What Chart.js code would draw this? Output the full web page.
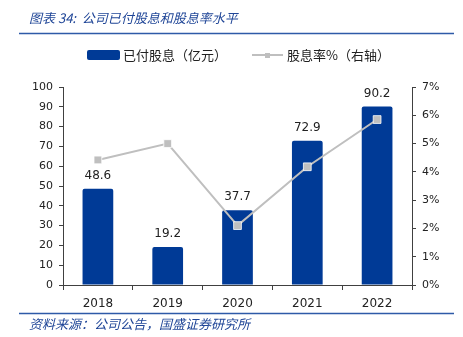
<!DOCTYPE html>
<html>
<head>
<meta charset="utf-8">
<script src="https://cdn.jsdelivr.net/npm/chart.js@4/dist/chart.umd.min.js"></script>
<style>
  html, body { margin: 0; padding: 0; background: #fff; }
  #wrap { position: relative; width: 463px; height: 337px; }
</style>
</head>
<body>
<div id="wrap"><canvas id="combo_dividend" width="463" height="337"></canvas></div>
<script>
const years = ["2018", "2019", "2020", "2021", "2022"];
const dividendPaid = [48.6, 19.2, 37.7, 72.9, 90.2];
const dividendYield = [4.42, 5.0, 2.1, 4.18, 5.85];
const leftTicks = [0, 10, 20, 30, 40, 50, 60, 70, 80, 90, 100];
const rightTicks = [0, 1, 2, 3, 4, 5, 6, 7];

const titleText = "图表 34:  公司已付股息和股息率水平";
const sourceText = "资料来源：公司公告，国盛证券研究所";
const barLabel = "已付股息（亿元）";
const lineLabel = "股息率%（右轴）";

const BLUE = "#003A96";
const GREY = "#BFBFBF";
const AXIS = "#404040";
const tickFont = { family: "DejaVu Sans", size: 11 };

const decorPlugin = {
    id: "decor",
    afterDraw(chart) {
        const c = chart.ctx;
        c.save();
        // title + rules
        c.fillStyle = "#1F4597";
        c.font = "italic 13px 'Noto Sans CJK SC'";
        c.textBaseline = "middle";
        c.fillText(titleText, 29, 18);
        c.strokeStyle = "#2E5AA8";
        c.lineWidth = 1.5;
        c.beginPath(); c.moveTo(19, 33.5); c.lineTo(454, 33.5); c.stroke();
        c.beginPath(); c.moveTo(19, 313.5); c.lineTo(454, 313.5); c.stroke();
        c.font = "italic 13px 'Noto Sans CJK SC'";
        c.fillText(sourceText, 29, 324);

        // legend
        c.fillStyle = BLUE;
        c.beginPath();
        c.roundRect(87, 50, 33, 10, 2);
        c.fill();
        c.fillStyle = "#222";
        c.font = "13px 'Noto Sans CJK SC'";
        c.fillText(barLabel, 123, 55);
        c.strokeStyle = GREY;
        c.lineWidth = 2;
        c.beginPath(); c.moveTo(252, 55); c.lineTo(283, 55); c.stroke();
        c.fillStyle = GREY;
        c.fillRect(265, 53, 5, 5);
        c.fillStyle = "#222";
        c.fillText(lineLabel, 287, 55);

        // value labels above bars
        const meta = chart.getDatasetMeta(1);
        c.font = "12px 'DejaVu Sans'";
        c.fillStyle = "#222";
        c.textAlign = "center";
        c.textBaseline = "middle";
        meta.data.forEach((bar, i) => {
            c.fillText(dividendPaid[i].toFixed(1), bar.x, bar.y - 13);
        });
        c.restore();
    }
};

const config_dividend = {
    type: "bar",
    data: {
        labels: years,
        datasets: [
            {
                type: "line",
                label: lineLabel,
                data: dividendYield,
                yAxisID: "y1",
                borderColor: GREY,
                backgroundColor: GREY,
                borderWidth: 2,
                pointStyle: "rect",
                pointRadius: 5.5,
                pointBorderColor: "#fff",
                pointBorderWidth: 0.8,
                order: 0
            },
            {
                type: "bar",
                label: barLabel,
                data: dividendPaid,
                yAxisID: "y",
                backgroundColor: BLUE,
                borderRadius: 2,
                barPercentage: 0.88,
                categoryPercentage: 0.5,
                order: 1
            }
        ]
    },
    options: {
        responsive: false,
        animation: false,
        layout: { padding: { top: 87, bottom: 22, left: 0, right: 0 } },
        plugins: {
            legend: { display: false },
            tooltip: { enabled: false }
        },
        scales: {
            x: {
                afterFit: (s) => { s.height = 30; },
                grid: { display: true, drawOnChartArea: false, offset: true, tickLength: 5, color: AXIS },
                border: { color: AXIS, width: 1 },
                ticks: { color: "#222", font: { family: "DejaVu Sans", size: 12 }, padding: 7 }
            },
            y: {
                position: "left",
                min: 0, max: 100,
                afterFit: (s) => { s.width = 63; },
                afterBuildTicks: (ax) => { ax.ticks = leftTicks.map(v => ({ value: v })); },
                grid: { display: true, drawOnChartArea: false, tickLength: 4, color: AXIS },
                border: { color: AXIS, width: 1 },
                ticks: { color: "#222", font: tickFont, padding: 6 }
            },
            y1: {
                position: "right",
                min: 0, max: 7,
                afterFit: (s) => { s.width = 51; },
                afterBuildTicks: (ax) => { ax.ticks = rightTicks.map(v => ({ value: v })); },
                grid: { display: true, drawOnChartArea: false, tickLength: 4, color: AXIS },
                border: { color: AXIS, width: 1 },
                ticks: { color: "#222", font: tickFont, padding: 6, callback: v => v + "%" }
            }
        }
    },
    plugins: [decorPlugin]
};

const ctx_dividend = document.getElementById("combo_dividend").getContext("2d");
const myChart_dividend = new Chart(ctx_dividend, config_dividend);
</script>
</body>
</html>
